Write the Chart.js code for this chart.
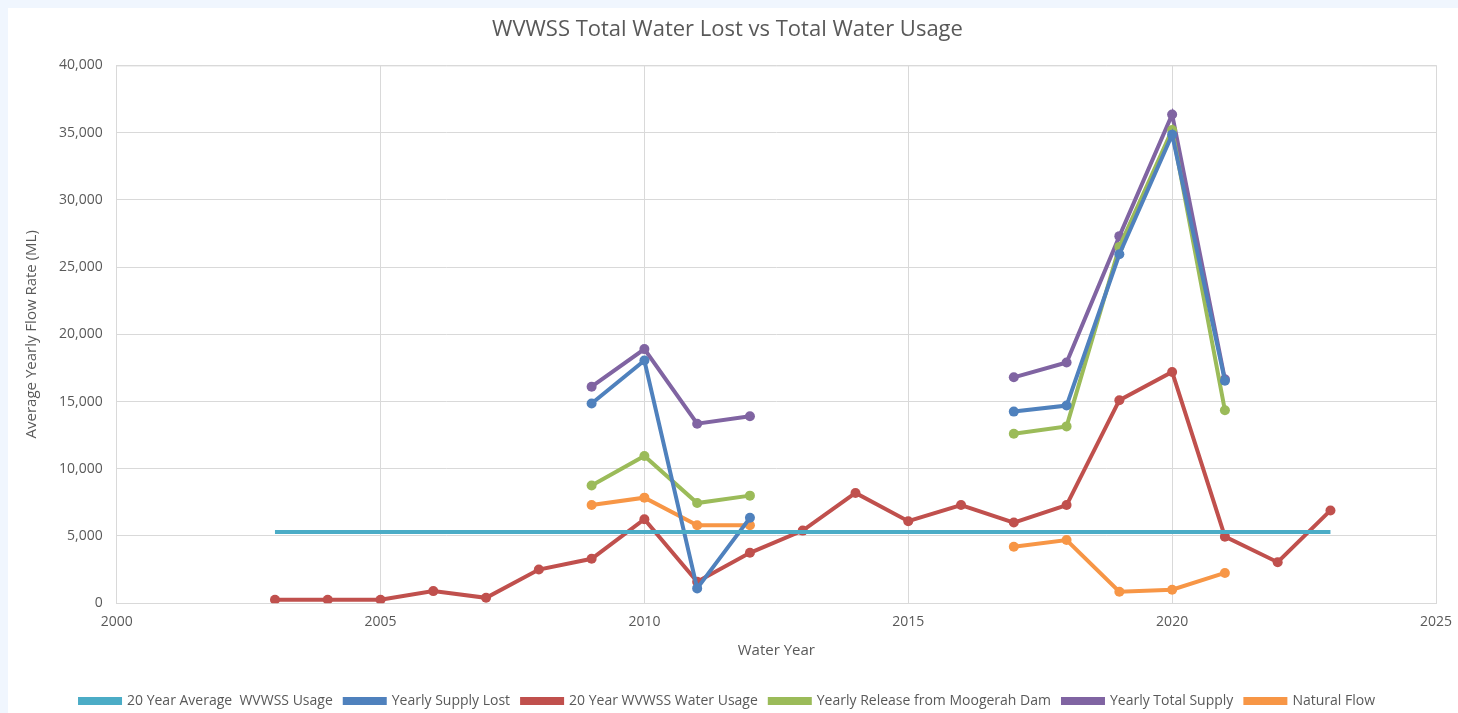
<!DOCTYPE html>
<html>
<head>
<meta charset="utf-8">
<script src="https://cdn.jsdelivr.net/npm/chart.js@4"></script>
<style>
    html, body { margin: 0; padding: 0; background: #f0f6fe; overflow: hidden; }
    #wrap { position: absolute; left: 8px; top: 8px; width: 1450px; height: 710px; background: #fff; }
</style>
</head>
<body>
<div id="wrap"><canvas id="waterChart"></canvas></div>
<script>
const years = [2003, 2004, 2005, 2006, 2007, 2008, 2009, 2010, 2011, 2012, 2013,
               2014, 2015, 2016, 2017, 2018, 2019, 2020, 2021, 2022, 2023];

const avgUsage = [5300, 5300, 5300, 5300, 5300, 5300, 5300, 5300, 5300, 5300, 5300,
                  5300, 5300, 5300, 5300, 5300, 5300, 5300, 5300, 5300, 5300];
const supplyLost = [null, null, null, null, null, null, 14850, 18050, 1100, 6350, null,
                    null, null, null, 14250, 14700, 25950, 34850, 16550, null, null];
const waterUsage = [250, 250, 250, 900, 400, 2500, 3300, 6250, 1600, 3750, 5400,
                    8200, 6100, 7300, 6000, 7300, 15100, 17200, 4950, 3050, 6900];
const damRelease = [null, null, null, null, null, null, 8750, 10950, 7450, 8000, null,
                    null, null, null, 12600, 13150, 26500, 35200, 14350, null, null];
const totalSupply = [null, null, null, null, null, null, 16100, 18900, 13350, 13900, null,
                     null, null, null, 16800, 17900, 27300, 36350, 16650, null, null];
const naturalFlow = [null, null, null, null, null, null, 7300, 7850, 5800, 5800, null,
                     null, null, null, 4200, 4700, 850, 1000, 2250, null, null];

const xTicks = [2000, 2005, 2010, 2015, 2020, 2025];
const yTicks = [0, 5000, 10000, 15000, 20000, 25000, 30000, 35000, 40000];

function points(values) {
    return years.map((yr, i) => ({ x: yr, y: values[i] }));
}

function lineSet(label, values, color, showDots) {
    return {
        label: label,
        data: points(values),
        borderColor: color,
        backgroundColor: color,
        borderWidth: 4,
        pointRadius: showDots ? 5 : 0,
        pointHoverRadius: showDots ? 5 : 0,
        pointBorderWidth: 0,
        tension: 0,
        spanGaps: false
    };
}

const fontFam = "'Open Sans', sans-serif";
const grey = '#595959';

new Chart(document.getElementById('waterChart'), {
    type: 'line',
    data: {
        datasets: [
            lineSet('20 Year Average  WVWSS Usage', avgUsage, '#4bacc6', false),
            lineSet('Yearly Supply Lost', supplyLost, '#4f81bd', true),
            lineSet('20 Year WVWSS Water Usage', waterUsage, '#c0504d', true),
            lineSet('Yearly Release from Moogerah Dam', damRelease, '#9bbb59', true),
            lineSet('Yearly Total Supply', totalSupply, '#8064a2', true),
            lineSet('Natural Flow', naturalFlow, '#f79646', true)
        ]
    },
    options: {
        responsive: true,
        maintainAspectRatio: false,
        animation: false,
        layout: { padding: { left: 11, right: 22, top: 4, bottom: 0 } },
        plugins: {
            title: {
                display: true,
                text: 'WVWSS Total Water Lost vs Total Water Usage',
                color: grey,
                font: { family: fontFam, size: 22, weight: 'normal' },
                padding: { top: 5, bottom: 22 }
            },
            legend: {
                position: 'bottom',
                labels: {
                    color: grey,
                    font: { family: fontFam, size: 14 },
                    boxWidth: 40,
                    boxHeight: 4,
                    padding: 12
                }
            },
            tooltip: { enabled: false }
        },
        scales: {
            x: {
                type: 'linear',
                min: 2000,
                max: 2025,
                afterBuildTicks: axis => { axis.ticks = xTicks.map(v => ({ value: v })); },
                afterFit: axis => { axis.paddingRight = 0; },
                ticks: {
                    color: grey,
                    font: { family: fontFam, size: 14 },
                    padding: 10,
                    callback: v => String(v),
                    maxRotation: 0
                },
                grid: { color: '#d9d9d9', drawTicks: false },
                border: { color: '#d9d9d9' },
                title: {
                    display: true,
                    text: 'Water Year',
                    color: grey,
                    font: { family: fontFam, size: 15 },
                    padding: { top: 2, bottom: 22 }
                }
            },
            y: {
                min: 0,
                max: 40000,
                afterBuildTicks: axis => { axis.ticks = yTicks.map(v => ({ value: v })); },
                ticks: {
                    color: grey,
                    font: { family: fontFam, size: 14 },
                    padding: 14,
                    callback: v => v.toLocaleString('en-US')
                },
                grid: { color: '#d9d9d9', drawTicks: false },
                border: { color: '#d9d9d9' },
                title: {
                    display: true,
                    text: 'Average Yearly Flow Rate (ML)',
                    color: grey,
                    font: { family: fontFam, size: 15 },
                    padding: { bottom: 4 }
                }
            }
        }
    },
    plugins: [{
        id: 'rightBorder',
        afterDraw(chart) {
            const a = chart.chartArea, c = chart.ctx;
            c.save();
            c.strokeStyle = '#d9d9d9';
            c.lineWidth = 1;
            c.beginPath();
            c.moveTo(a.right + 0.5, a.top);
            c.lineTo(a.right + 0.5, a.bottom);
            c.moveTo(a.left, a.top + 0.5);
            c.lineTo(a.right, a.top + 0.5);
            c.stroke();

            // excel-style marker dot on the legend lines
            const boxes = chart.legend.legendHitBoxes || [];
            const bw = chart.legend.options.labels.boxWidth;
            boxes.forEach((b, i) => {
                const ds = chart.data.datasets[i];
                if (!ds || !ds.pointRadius) return;
                c.fillStyle = ds.borderColor;
                c.beginPath();
                c.arc(b.left + bw / 2, b.top + b.height / 2, 4, 0, Math.PI * 2);
                c.fill();
            });
            c.restore();
        }
    }]
});
</script>
</body>
</html>
